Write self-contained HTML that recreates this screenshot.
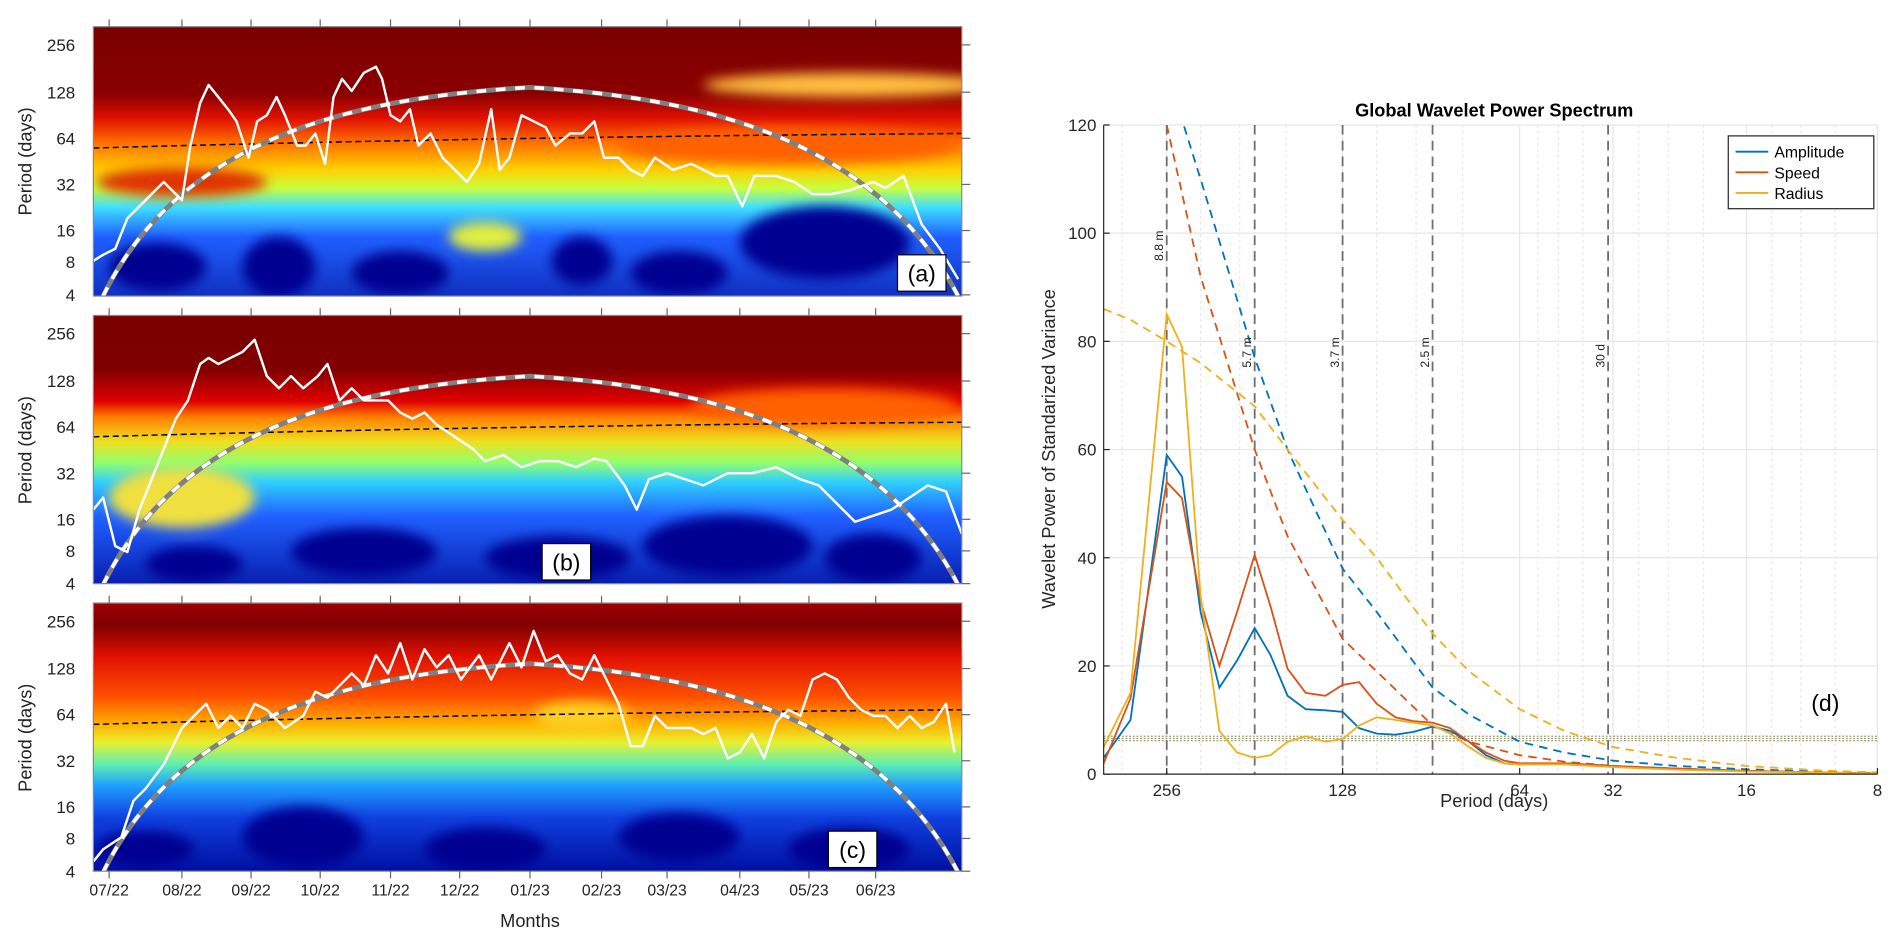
<!DOCTYPE html>
<html><head><meta charset="utf-8"><style>
html,body{margin:0;padding:0;background:#fff}
svg{display:block}
text{font-family:"Liberation Sans",Arial,sans-serif}
</style></head><body>
<svg id="root" width="1892" height="944" viewBox="0 0 1560 778" preserveAspectRatio="none" xmlns="http://www.w3.org/2000/svg">
<defs>
<filter id="blur" x="-50%" y="-50%" width="200%" height="200%"><feGaussianBlur stdDeviation="5"/></filter>
<filter id="blur2" x="-50%" y="-50%" width="200%" height="200%"><feGaussianBlur stdDeviation="3"/></filter>
<linearGradient id="ga" x1="0" y1="0" x2="0" y2="1">
<stop offset="0" stop-color="#7a0000"/><stop offset="0.25" stop-color="#8a0000"/><stop offset="0.34" stop-color="#e01000"/><stop offset="0.43" stop-color="#ff7000"/><stop offset="0.53" stop-color="#ffd000"/><stop offset="0.6" stop-color="#c8ff40"/><stop offset="0.67" stop-color="#40e0ff"/><stop offset="0.78" stop-color="#2060ff"/><stop offset="1" stop-color="#1030c0"/></linearGradient>
<linearGradient id="gb" x1="0" y1="0" x2="0" y2="1">
<stop offset="0" stop-color="#7a0000"/><stop offset="0.2" stop-color="#800000"/><stop offset="0.32" stop-color="#e00000"/><stop offset="0.38" stop-color="#ff8000"/><stop offset="0.47" stop-color="#f0e020"/><stop offset="0.55" stop-color="#90ff70"/><stop offset="0.62" stop-color="#30d0ff"/><stop offset="0.75" stop-color="#2060ff"/><stop offset="1" stop-color="#0820b0"/></linearGradient>
<linearGradient id="gc" x1="0" y1="0" x2="0" y2="1">
<stop offset="0" stop-color="#a00000"/><stop offset="0.08" stop-color="#800000"/><stop offset="0.2" stop-color="#e01000"/><stop offset="0.35" stop-color="#ff5000"/><stop offset="0.45" stop-color="#ffb000"/><stop offset="0.52" stop-color="#e8f030"/><stop offset="0.6" stop-color="#60f0b0"/><stop offset="0.68" stop-color="#20a0ff"/><stop offset="0.8" stop-color="#1040e0"/><stop offset="1" stop-color="#0010a0"/></linearGradient>
<clipPath id="ca"><rect x="77" y="22" width="716" height="222"/></clipPath>
<clipPath id="cb"><rect x="77" y="260" width="716" height="221"/></clipPath>
<clipPath id="cc"><rect x="77" y="497" width="716" height="221"/></clipPath>
</defs>

<!-- Panel a -->
<g clip-path="url(#ca)">
<rect x="77" y="22" width="716" height="222" fill="url(#ga)"/>
<g filter="url(#blur)">
<ellipse cx="150" cy="150" rx="70" ry="12" fill="#e03000"/>
<ellipse cx="700" cy="70" rx="120" ry="10" fill="#ffc040"/>
<ellipse cx="650" cy="120" rx="140" ry="15" fill="#ff6000"/>
<ellipse cx="130" cy="220" rx="40" ry="20" fill="#000090"/>
<ellipse cx="230" cy="220" rx="30" ry="25" fill="#000090"/>
<ellipse cx="330" cy="225" rx="40" ry="18" fill="#000090"/>
<ellipse cx="480" cy="215" rx="25" ry="20" fill="#000090"/>
<ellipse cx="560" cy="225" rx="40" ry="18" fill="#000090"/>
<ellipse cx="680" cy="200" rx="70" ry="30" fill="#000090"/>
<ellipse cx="400" cy="195" rx="30" ry="12" fill="#e0f040"/>
</g></g>
<!-- Panel b -->
<g clip-path="url(#cb)">
<rect x="77" y="260" width="716" height="221" fill="url(#gb)"/>
<g filter="url(#blur)">
<ellipse cx="680" cy="335" rx="110" ry="15" fill="#ff6000"/>
<ellipse cx="150" cy="410" rx="60" ry="25" fill="#f0e040"/>
<ellipse cx="160" cy="465" rx="40" ry="15" fill="#000090"/>
<ellipse cx="300" cy="455" rx="60" ry="20" fill="#000090"/>
<ellipse cx="460" cy="460" rx="60" ry="18" fill="#000090"/>
<ellipse cx="600" cy="450" rx="70" ry="25" fill="#000090"/>
<ellipse cx="720" cy="460" rx="40" ry="20" fill="#000090"/>
</g></g>
<!-- Panel c -->
<g clip-path="url(#cc)">
<rect x="77" y="497" width="716" height="221" fill="url(#gc)"/>
<g filter="url(#blur)">
<ellipse cx="120" cy="700" rx="40" ry="15" fill="#000090"/>
<ellipse cx="250" cy="690" rx="50" ry="25" fill="#000090"/>
<ellipse cx="400" cy="700" rx="50" ry="18" fill="#000090"/>
<ellipse cx="560" cy="690" rx="50" ry="20" fill="#000090"/>
<ellipse cx="700" cy="700" rx="50" ry="18" fill="#000090"/>
<ellipse cx="480" cy="590" rx="40" ry="12" fill="#ffd020"/>
</g></g>

<g id="left"></g>
<g id="right"></g>
</svg>
<script>
const NS="http://www.w3.org/2000/svg";
function mk(parent,tag,attrs,txt){const e=document.createElementNS(NS,tag);for(const k in attrs)e.setAttribute(k,attrs[k]);if(txt!==undefined)e.textContent=txt;parent.appendChild(e);return e;}

// ---------- Left panels ----------
const monthLabels=["07/22","08/22","09/22","10/22","11/22","12/22","01/23","02/23","03/23","04/23","05/23","06/23"];
const monthPos=[90,150,207,264,322,379,437,496,550,610,667,722];
const periodTickLabels=["256","128","64","32","16","8","4"];
const periodTickOff=[15,54,92,130,168,194,221];
const panelTops=[22,260,497];
const panelNames=["a","b","c"];
const lineA=[[77,215],[85,210],[95,205],[105,180],[115,170],[125,160],[135,150],[145,160],[150,165],[157,120],[165,85],[172,70],[180,80],[188,90],[195,100],[205,130],[212,100],[220,95],[228,80],[235,95],[245,120],[252,120],[260,110],[268,135],[275,80],[282,65],[290,75],[300,60],[310,55],[315,65],[322,95],[330,100],[338,90],[345,120],[355,110],[365,130],[375,140],[385,150],[395,135],[405,90],[412,140],[420,130],[430,95],[440,100],[450,105],[458,120],[470,110],[480,110],[490,100],[498,130],[510,130],[520,140],[530,145],[540,130],[555,140],[570,135],[590,145],[600,145],[612,170],[622,145],[640,145],[655,150],[670,160],[685,160],[700,157],[720,150],[730,155],[745,145],[760,185],[775,205],[790,230]];
const lineB=[[77,420],[85,410],[95,450],[105,455],[115,420],[125,395],[135,370],[145,345],[155,330],[165,300],[172,295],[180,300],[190,295],[200,290],[210,280],[220,310],[230,320],[240,310],[250,320],[262,310],[270,300],[280,330],[290,320],[300,330],[310,330],[320,330],[330,340],[340,345],[350,340],[360,350],[375,360],[390,370],[400,380],[415,375],[430,385],[445,380],[460,380],[475,385],[490,378],[500,380],[515,400],[525,420],[535,395],[550,390],[565,395],[580,400],[600,390],[620,390],[640,385],[660,395],[675,400],[690,415],[705,430],[720,425],[735,420],[750,410],[765,400],[780,405],[793,440]];
const lineC=[[77,710],[85,700],[100,690],[110,660],[120,650],[135,630],[150,600],[160,590],[170,580],[180,600],[190,590],[200,600],[210,580],[220,585],[235,600],[250,590],[260,570],[270,575],[280,565],[290,555],[300,565],[310,540],[320,555],[330,530],[340,560],[350,535],[360,550],[370,540],[380,560],[395,540],[405,560],[420,530],[430,550],[440,520],[450,545],[460,540],[470,555],[480,560],[490,540],[500,560],[510,580],[520,615],[530,615],[540,590],[550,600],[560,600],[570,600],[580,605],[590,600],[600,625],[610,620],[620,605],[630,625],[640,595],[650,585],[660,590],[670,560],[680,555],[690,560],[700,575],[710,585],[720,590],[730,590],[740,600],[750,590],[760,600],[770,595],[780,580],[787,620]];
const lines=[lineA,lineB,lineC];
const L=document.getElementById('left');
panelTops.forEach((top,i)=>{
  const g=mk(L,'g',{'clip-path':'url(#c'+panelNames[i]+')'});
  
  
  // black contour hints
  const c1=mk(g,'path',{d:`M77 ${top+100} C250 ${top+95} 500 ${top+90} 793 ${top+88}`,stroke:'#000',fill:'none','stroke-width':1.2,'stroke-dasharray':'5 3'});
  
  const bot=top+222;
  const coi=`M85 ${bot} C150 ${top+88} 300 ${top+58} 437 ${top+50} C570 ${top+58} 720 ${top+88} 790 ${bot}`;
  const cg=mk(g,'path',{d:coi,stroke:'#808080','stroke-width':4,fill:'none'});
  
  mk(g,'path',{d:coi,stroke:'#fff','stroke-width':3,fill:'none','stroke-dasharray':'8 8'});
  const pl=mk(g,'polyline',{points:lines[i].map(p=>p.join(',')).join(' '),fill:'none',stroke:'#fff','stroke-width':2,'stroke-linejoin':'round'});
  
  const fr=mk(L,'rect',{x:77,y:top,width:716,height:(i==0?222:221),fill:'none',stroke:'#888','stroke-width':1});
  
  periodTickLabels.forEach((t,j)=>{
    const tx=mk(L,'text',{x:62,y:top+periodTickOff[j]+5,'font-size':14,'text-anchor':'end',fill:'#222'},t);
    
    mk(L,'line',{x1:793,x2:800,y1:top+periodTickOff[j],y2:top+periodTickOff[j],stroke:'#666'});
  });
  const yl=mk(L,'text',{transform:`translate(26 ${top+111}) rotate(-90)`,'font-size':15,'text-anchor':'middle',fill:'#222'},'Period (days)');
  
  const bx=[740,447,683][i];
  const lb=mk(L,'rect',{x:bx,y:top+188,width:40,height:30,fill:'#fff',stroke:'#000'});
  
  const lt=mk(L,'text',{x:bx+20,y:top+210,'font-size':19,'text-anchor':'middle',fill:'#000'},'('+panelNames[i]+')');
  
  monthPos.forEach(x=>mk(L,'line',{x1:x,x2:x,y1:top-6,y2:top,stroke:'#666'}));
});
monthLabels.forEach((m,j)=>{
  const t=mk(L,'text',{x:monthPos[j],y:738,'font-size':13,'text-anchor':'middle',fill:'#222'},m);
  
  mk(L,'line',{x1:monthPos[j],x2:monthPos[j],y1:718,y2:724,stroke:'#666'});
});
const ml=mk(L,'text',{x:437,y:764,'font-size':15,'text-anchor':'middle',fill:'#222'},'Months');


// ---------- Right chart ----------
const xTickPeriods=[256,128,64,32,16,8];
const xTickLabels=["256","128","64","32","16","8"];
const yTicks=[0,20,40,60,80,100,120];
const periods=[320,291,256,241,224,208,194,181,170,159,148,137,128,120,112,104,97,90,84,78,73,68,64,46,32,23,16,10.9,8];
const amplitude=[3,10,59,55,30,16,21,27,22,14.5,12,11.8,11.5,8.5,7.5,7.3,7.8,8.8,8,6,3.5,2,1.8,2,1.5,1,0.6,0.3,0.1];
const speed=[2,14,54,51,32,20,30,40.5,31,19.5,15,14.5,16.5,17,13,10.5,9.8,9.5,8.5,6,4,2.5,2,2,1.5,1,0.6,0.3,0.1];
const radius=[5,15,85,79,33,8,4,3,3.5,6,7,6,6.5,9,10.5,10,9.5,9,7.5,5,3,2,1.8,1.8,1.3,0.8,0.5,0.3,0.1];
const sigPeriods=[320,291,256,224,181,159,128,112,90,78,64,46,32,23,16,10.9,8];
const sigAmplitude=[null,null,130,110,77,60,38,30,16,11,6,4,2.5,1.5,0.9,0.5,0.3];
const sigSpeed=[null,null,120,92,60,44,25,19,9,6,3.5,2.3,1.5,1,0.6,0.3,0.2];
const sigRadius=[86,84,80,76,68,60,47,40,26,19,12,8,5,3,1.5,0.7,0.3];
const sigLevels=[6.2,6.6,7.0];
const markerLabels=["8.8 m","5.7 m","3.7 m","2.5 m","30 d"];
const markerPeriods=[256,181,128,90,33.2];

const PL=910,PR=1548,PT=103,PB=638;
const anchorsP=[320,256,128,64,32,16,8], anchorsX=[910,962,1107,1253,1330,1440,1548];
function xs(p){
  const lp=Math.log2(p);
  for(let i=0;i<anchorsP.length-1;i++){
    const a=Math.log2(anchorsP[i]),b=Math.log2(anchorsP[i+1]);
    if(lp<=a&&lp>=b)return anchorsX[i]+(a-lp)/(a-b)*(anchorsX[i+1]-anchorsX[i]);
  }
  return lp>Math.log2(anchorsP[0])?anchorsX[0]:anchorsX[anchorsX.length-1];
}
function ys(v){return PB-v/120*(PB-PT);}
const R=document.getElementById('right');
// background grid
yTicks.forEach(v=>{const l=mk(R,'line',{x1:PL,x2:PR,y1:ys(v),y2:ys(v),stroke:'#e6e6e6'});});
[300,224,192,160,112,96,80,56,48,40,28,24,20,14,12,10].forEach(p=>mk(R,'line',{x1:xs(p),x2:xs(p),y1:PT,y2:PB,stroke:'#e4e4e4','stroke-dasharray':'2 3'}));
xTickPeriods.forEach(p=>mk(R,'line',{x1:xs(p),x2:xs(p),y1:PT,y2:PB,stroke:'#e6e6e6'}));
const clip=mk(R,'clipPath',{id:'cr'});mk(clip,'rect',{x:PL,y:PT,width:PR-PL,height:PB-PT});
const G=mk(R,'g',{'clip-path':'url(#cr)'});
sigLevels.forEach(v=>{const l=mk(G,'line',{x1:PL,x2:PR,y1:ys(v),y2:ys(v),stroke:'#9a9a70','stroke-width':1,'stroke-dasharray':'1.5 1.5'});});
markerPeriods.forEach((p,i)=>{
  const l=mk(G,'line',{x1:xs(p),x2:xs(p),y1:PT,y2:PB,stroke:'#707070','stroke-width':1.5,'stroke-dasharray':'8 5'});
  
  const t=mk(R,'text',{transform:`translate(${xs(p)-3} ${[215,303,303,303,303][i]}) rotate(-90)`,'font-size':10,fill:'#222'},markerLabels[i]);
  
});
function path(ps,vals){let d='';ps.forEach((p,i)=>{if(vals[i]==null)return;d+=(d?'L':'M')+xs(p).toFixed(1)+' '+ys(vals[i]).toFixed(1)+' ';});return d;}
const colors={amp:'#0072BD',spd:'#D95319',rad:'#EDB120'};
[[sigAmplitude,colors.amp,'amplitude-significance'],[sigSpeed,colors.spd,'speed-significance'],[sigRadius,colors.rad,'radius-significance']].forEach(s=>{
  const e=mk(G,'path',{d:path(sigPeriods,s[0]),stroke:s[1],fill:'none','stroke-width':1.5,'stroke-dasharray':'7 5'});
  
});
[[amplitude,colors.amp,'amplitude-line'],[speed,colors.spd,'speed-line'],[radius,colors.rad,'radius-line']].forEach(s=>{
  const e=mk(G,'path',{d:path(periods,s[0]),stroke:s[1],fill:'none','stroke-width':1.5});
  
});
// axes
const ax=mk(R,'path',{d:`M${PL} ${PT} V${PB} H${PR}`,stroke:'#262626',fill:'none'});

yTicks.forEach(v=>{
  mk(R,'line',{x1:PL,x2:PL+5,y1:ys(v),y2:ys(v),stroke:'#262626'});
  const t=mk(R,'text',{x:PL-6,y:ys(v)+5,'font-size':14,'text-anchor':'end',fill:'#262626'},String(v));
  
});
xTickPeriods.forEach((p,i)=>{
  mk(R,'line',{x1:xs(p),x2:xs(p),y1:PB,y2:PB-5,stroke:'#262626'});
  const t=mk(R,'text',{x:xs(p),y:PB+18,'font-size':14,'text-anchor':'middle',fill:'#262626'},xTickLabels[i]);
  
});
let t;
t=mk(R,'text',{x:1232,y:96,'font-size':15,'font-weight':'bold','text-anchor':'middle',fill:'#000'},'Global Wavelet Power Spectrum');

t=mk(R,'text',{x:1232,y:665,'font-size':15,'text-anchor':'middle',fill:'#262626'},'Period (days)');

t=mk(R,'text',{transform:'translate(870 370) rotate(-90)','font-size':15,'text-anchor':'middle',fill:'#262626'},'Wavelet Power of Standarized Variance');

t=mk(R,'text',{x:1505,y:586,'font-size':19,'text-anchor':'middle',fill:'#000'},'(d)');

const lg=mk(R,'g',{});

mk(lg,'rect',{x:1425,y:112,width:120,height:60,fill:'#fff',stroke:'#262626'});
[['Amplitude',colors.amp],['Speed',colors.spd],['Radius',colors.rad]].forEach((e,i)=>{
  const y=125+i*17;
  const gi=mk(lg,'g',{});
  
  mk(gi,'line',{x1:1431,x2:1458,y1:y,y2:y,stroke:e[1],'stroke-width':1.5});
  mk(gi,'text',{x:1463,y:y+5,'font-size':13,fill:'#000'},e[0]);
});
</script>
</body></html>
